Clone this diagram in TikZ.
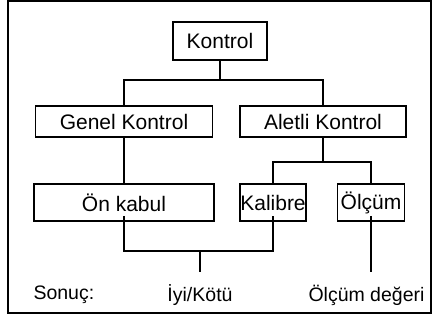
\documentclass[tikz,border=0pt]{standalone}
\usepackage{fontspec}
\setmainfont{Liberation Sans}
\begin{document}
\begin{tikzpicture}[x=1pt,y=-1pt,
  every node/.style={font=\fontsize{21}{24}\selectfont},
  lbl/.style={font=\fontsize{19.5}{24}\selectfont},
  box/.style={draw,line width=1.7pt,inner sep=0pt,minimum width=#1},
  conn/.style={line width=1.6pt},
  thinconn/.style={line width=1.2pt}]
\useasboundingbox (0,0) rectangle (434,320);
\draw[line width=1.7pt] (8,1) rectangle (431,313);
\node[box=94pt,minimum height=38pt] (kontrol) at (220,41) {Kontrol};
\node[box=177pt,minimum height=31pt] (genel) at (124,121.5) {Genel Kontrol};
\node[box=166pt,minimum height=31pt] (aletli) at (323,121.5) {Aletli Kontrol};
\node[box=180pt,minimum height=37pt] (onkabul) at (124,202.5) {Ön kabul};
\node[box=65pt,minimum height=37pt] (kalibre) at (273,202.5) {Kalibre};
\node[box=67pt,minimum height=37pt] (olcum) at (371,202.5) {Ölçüm};
\node[lbl,anchor=west] (sonuc) at (30,295) {Sonuç:};
\node[lbl] (iyi) at (200,295) {İyi/Kötü};
\node[lbl,anchor=east] (deger) at (428,295) {Ölçüm değeri};
\coordinate (j1) at (220,80);
\coordinate (j2) at (323,162);
\draw[conn] (kontrol.south) -- (j1);
\draw[conn] (j1) -| (genel.north);
\draw[conn] (j1) -| (aletli.north);
\draw[conn] (genel.south) -- (onkabul.north);
\draw[conn] (aletli.south) -- (j2);
\draw[conn] (j2) -| (kalibre.north);
\draw[conn] (j2) -| (olcum.north);
\coordinate (b1) at ([yshift=6pt]onkabul.south);
\coordinate (b2) at ([yshift=6pt]kalibre.south);
\coordinate (bm) at (200,251);
\coordinate (bs) at (200,272);
\coordinate (r1) at ([yshift=6pt]olcum.south);
\coordinate (rs) at (371,272);
\draw[conn] (b1) |- (bm) -| (b2);
\draw[thinconn] (bm) -- (bs);
\draw[thinconn] (r1) -- (rs);
\end{tikzpicture}
\end{document}
